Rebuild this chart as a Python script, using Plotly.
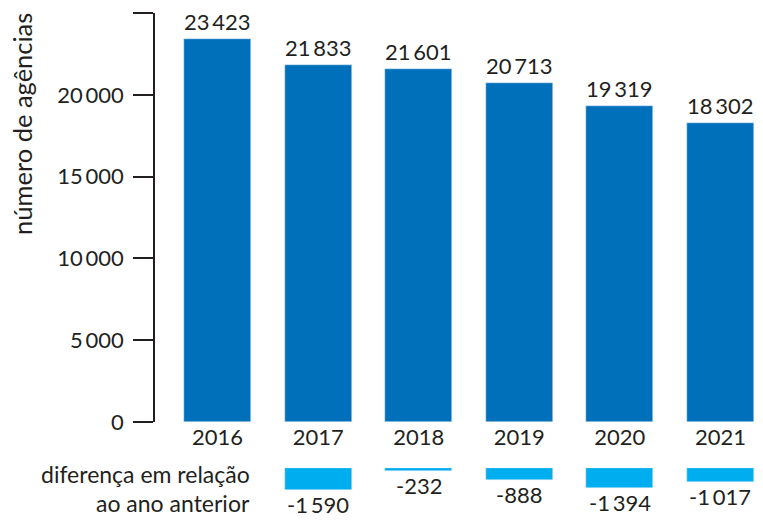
import plotly.graph_objects as go

years = ["2016", "2017", "2018", "2019", "2020", "2021"]
agencias = [23423, 21833, 21601, 20713, 19319, 18302]
diff_years = ["2017", "2018", "2019", "2020", "2021"]
diferenca = [-1590, -232, -888, -1394, -1017]
y_ticks = [0, 5000, 10000, 15000, 20000, 25000]
diff_title = ["diferença em relação", "ao ano anterior"]

TS = "\u2009"
def fmt(v):
    s = f"{abs(v):,}".replace(",", TS)
    return ("-" if v < 0 else "") + s

# page body margin places the figure at (8, 8); keep it inside the window
OFF = 8
W, H = 763 - 2 * OFF, 526 - 2 * OFF
DARK = "#231f20"
BLUE = "#0070bb"
LIGHT = "#00aeef"
FONT = "Lato"

def py(sy):
    return 1 - (sy - OFF) / H

plot_left = 155 - OFF
pw = W - plot_left
BW = 0.668

fig = go.Figure()
fig.add_trace(go.Bar(x=years, y=agencias, marker_color=BLUE, width=BW,
                     xaxis="x", yaxis="y", hoverinfo="skip"))
fig.add_trace(go.Bar(x=diff_years, y=diferenca, marker_color=LIGHT, width=BW,
                     xaxis="x", yaxis="y2", hoverinfo="skip"))

annotations = []
for yr, v in zip(years, agencias):
    annotations.append(dict(x=years.index(yr), y=v, xref="x", yref="y", text=fmt(v), showarrow=False,
                            yanchor="bottom", yshift=2, font=dict(size=22, color=DARK, family=FONT)))
for yr, v in zip(diff_years, diferenca):
    annotations.append(dict(x=years.index(yr), y=v, xref="x", yref="y2", text=fmt(v), showarrow=False,
                            yanchor="top", yshift=0, borderpad=0,
                            font=dict(size=22, color=DARK, family=FONT)))

annotations.append(dict(x=(22 - OFF - plot_left) / pw, y=py(124), xref="paper", yref="paper",
                        text="número de agências", textangle=-90, showarrow=False,
                        xanchor="center", yanchor="middle",
                        font=dict(size=25.5, color=DARK, family=FONT)))
for line, sy in zip(diff_title, [474, 503]):
    annotations.append(dict(x=(251 - OFF - plot_left) / pw, y=py(sy), xref="paper", yref="paper",
                            text=line, align="right", showarrow=False, borderpad=0,
                            xanchor="right", yanchor="middle",
                            font=dict(size=23, color=DARK, family=FONT)))

fig.update_layout(
    width=W, height=H,
    margin=dict(l=plot_left, r=0, t=0, b=0, autoexpand=False),
    paper_bgcolor="white", plot_bgcolor="white",
    showlegend=False, bargap=0,
    font=dict(family=FONT, size=22, color=DARK),
    xaxis=dict(type="category", range=[-0.6225, 5.344], showline=False, showgrid=False,
               zeroline=False, ticks="", anchor="y", tickfont=dict(size=22, color=DARK),
               ticklabelstandoff=0),
    yaxis=dict(domain=[py(422), py(13)], range=[0, 25000], showgrid=False, zeroline=False,
               showline=True, linecolor=DARK, linewidth=1.5, ticks="outside", ticklen=20,
               tickwidth=1.5, tickcolor=DARK, tickvals=y_ticks, ticktext=[fmt(v) for v in y_ticks],
               tickfont=dict(size=22, color=DARK), ticklabelstandoff=5, anchor="x"),
    yaxis2=dict(domain=[0, py(468)], range=[-(518 - 468) / 0.014, 0], visible=False,
                anchor="x"),
    annotations=annotations,
)

fig.write_html("out.html")
